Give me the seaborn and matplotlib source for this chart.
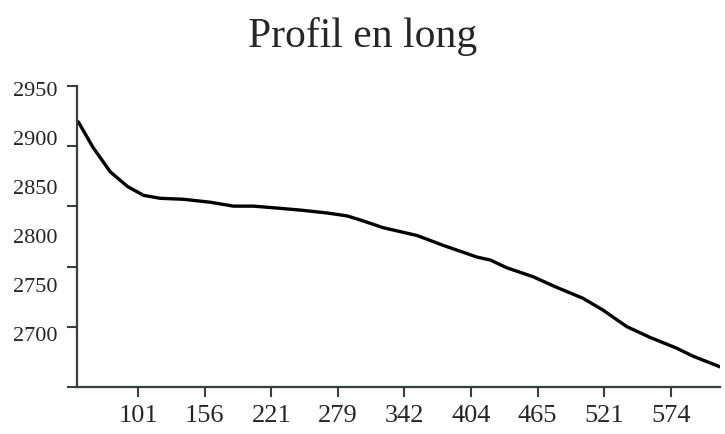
#!/usr/bin/env python3

import numpy as np
import pandas as pd
import matplotlib
matplotlib.use("Agg")
import matplotlib.pyplot as plt
import seaborn as sns

sns.set_theme(style="ticks")
plt.rcParams["font.family"] = ["Liberation Serif", "DejaVu Serif"]

# Profile: station (in tick units) and elevation (m)
station = [0.10, 0.32, 0.58, 0.84, 1.08, 1.33, 1.68, 2.08, 2.43, 2.73,
           3.09, 3.43, 3.84, 4.14, 4.33, 4.68, 5.19, 5.58, 6.09, 6.29,
           6.54, 6.93, 7.29, 7.68, 7.98, 8.34, 8.69, 9.09, 9.33, 9.74]
elevation = [2916, 2890, 2865, 2850, 2841, 2838, 2837, 2834, 2830, 2830,
             2828, 2826, 2823, 2820, 2816, 2808, 2800, 2790, 2778, 2775,
             2767, 2758, 2747, 2736, 2724, 2707, 2696, 2685, 2677, 2666]

# Distance labels under the evenly spaced ticks
tick_stations = [1, 2, 3, 4, 5, 6, 7, 8, 9]
tick_labels = ["101", "156", "221", "279", "342", "404", "465", "521", "574"]
y_labels = [2950, 2900, 2850, 2800, 2750, 2700]

df = pd.DataFrame({"station": station, "elevation": elevation})

spine_col = "#34403f"

fig = plt.figure(figsize=(7.25, 4.34), dpi=100)
ax = fig.add_axes([0.1062, 0.1083, 0.8869, 0.6935])

sns.lineplot(data=df, x="station", y="elevation", color="black", lw=2.4, ax=ax)

ax.set_xlim(0.08, 9.74)
ax.set_ylim(2645.4, 2952.6)

ax.set_xticks(tick_stations)
ax.set_xticklabels(tick_labels, fontsize=19)
ax.set_yticks(y_labels)
ax.set_yticklabels([str(v) for v in y_labels], fontsize=16)
# the drawn tick marks on the y axis do not line up with the labels
ax.set_yticks(np.linspace(2645.4, 2952.6, 6), minor=True)

ax.tick_params(axis="x", length=7.2, width=1.5, color=spine_col, pad=6)
ax.tick_params(axis="y", which="major", length=0, pad=14)
ax.tick_params(axis="y", which="minor", length=7.2, width=1.5, color=spine_col)

ax.set_xlabel("")
ax.set_ylabel("")
sns.despine(ax=ax)
for s in ["left", "bottom"]:
    ax.spines[s].set_color(spine_col)
    ax.spines[s].set_linewidth(1.6)

fig.suptitle("Profil en long", fontsize=30, y=0.96)

fig.savefig("out.png", dpi=100)
